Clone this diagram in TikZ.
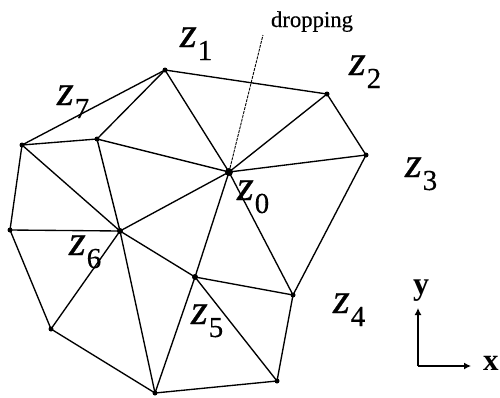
\documentclass[tikz,border=0pt]{standalone}
\usepackage{fontspec}
\usetikzlibrary{arrows.meta}
\setmainfont{Liberation Serif}
\newfontfamily\zfont[FakeBold=0.8]{Liberation Serif Italic}
\newfontfamily\dfont[FakeBold=0.4]{Liberation Serif}
\newcommand{\zlab}[1]{{\fontsize{43}{43}\zfont z}\kern1pt\raisebox{-13pt}{\fontsize{29}{29}\dfont #1}}
\begin{document}
\begin{tikzpicture}[x=1pt,y=-1pt,
  vert/.style={circle,fill=black,inner sep=0pt,minimum size=5pt},
  bigvert/.style={circle,fill=black,inner sep=0pt,minimum size=8pt},
  edge/.style={line width=1.35pt,black},
  zl/.style={anchor=base west,inner sep=0pt,outer sep=0pt},
  arrowline/.style={line width=1.3pt,-{Latex[length=7pt,width=7pt]}}]
\useasboundingbox (0,0) rectangle (500,397);
\node[vert] (a) at (165,70) {};
\node[vert] (b) at (327,94) {};
\node[vert] (c) at (366,155) {};
\node[vert] (d) at (293,295) {};
\node[vert] (e) at (277,381) {};
\node[vert] (f) at (155,393) {};
\node[vert] (g) at (51,329) {};
\node[vert] (h) at (10,230) {};
\node[vert] (i) at (22,145) {};
\node[vert] (j) at (97,139) {};
\node[bigvert] (z) at (229,172) {};
\node[vert,minimum size=6pt] (s) at (120,231) {};
\node[vert,minimum size=6pt] (t) at (195,277) {};
\coordinate (dtop) at (263,35);
\coordinate (o) at (418,366);
\coordinate (ay) at (418,308);
\coordinate (ax) at (471,366);
\foreach \p/\q in {a/b,b/c,c/d,d/e,e/f,f/g,g/h,h/i,i/a,a/j,i/j,i/s,j/z,j/s,a/z,b/z,c/z,d/z,t/z,s/z,s/h,s/g,s/f,s/t,t/f,t/d,t/e}
  \draw[edge] (\p.center) -- (\q.center);
\draw[line width=0.9pt,dash pattern=on 3pt off 1pt] (z.center) -- (dtop);
\draw[arrowline] (o) -- (ay);
\draw[arrowline] (o) -- (ax);
\node[zl] (l1) at (180,47) {\zlab{1}};
\node[zl] (l2) at (349,75) {\zlab{2}};
\node[zl] (l3) at (405,177) {\zlab{3}};
\node[zl] (l4) at (333,313) {\zlab{4}};
\node[zl] (l5) at (191,324) {\zlab{5}};
\node[zl] (l6) at (69,255) {\zlab{6}};
\node[zl] (l7) at (57,105) {\zlab{7}};
\node[zl] (l0) at (237,200) {\zlab{0}};
\node[zl] (drop) at (271,27) {\fontsize{22.7}{22.7}\dfont dropping};
\node[zl] (ly) at (413,294) {\fontsize{32}{32}\selectfont\bfseries y};
\node[zl] (lx) at (483,370) {\fontsize{31}{31}\selectfont\bfseries x};
\end{tikzpicture}
\end{document}
